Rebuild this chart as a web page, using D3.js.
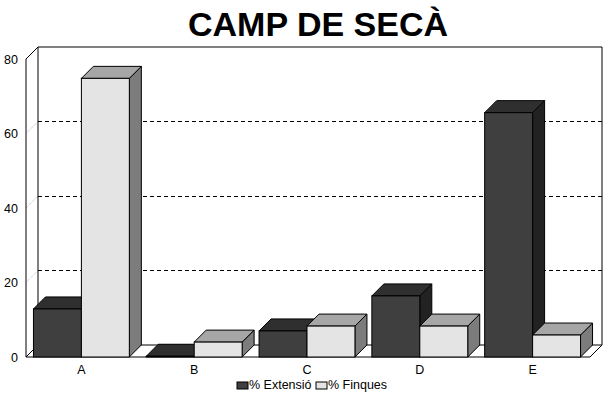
<!DOCTYPE html>
<html><head><meta charset="utf-8">
<script src="https://cdn.jsdelivr.net/npm/d3@7"></script>
<style>
html,body{margin:0;padding:0;background:#fff;}
svg{display:block;}
text{font-family:Arial,"Liberation Sans",sans-serif;fill:#000;}
</style></head>
<body>
<svg id="chart" width="610" height="399"></svg>
<script>
const title = "CAMP DE SECÀ";
const categories = ["A","B","C","D","E"];
const seriesNames = ["% Extensió","% Finques"];
const extensio = [12.9, 0.2, 7.0, 16.4, 65.6];
const finques = [74.8, 4.0, 8.3, 8.3, 5.9];
const yTicks = [0, 20, 40, 60, 80];

(function(){
const svg = d3.select("#chart");
const DX = 12, DY = 12;
const pL = 26, pR = 590, pT = 59, pB = 357;

const x = d3.scaleBand().domain(categories).range([25, 589]).paddingInner(0.15).paddingOuter(0.075);
const xs = d3.scaleBand().domain(seriesNames).range([0, x.bandwidth()]);
const y = d3.scaleLinear().domain([0, 80]).range([pB, pT]);

const styles = {
  "% Extensió": {front:"#3f3f3f", top:"#2f2f2f", side:"#222222"},
  "% Finques": {front:"#e4e4e4", top:"#a6a6a6", side:"#7c7c7c"}
};

svg.append("text").attr("x", 318).attr("y", 36).attr("text-anchor","middle")
  .style("font-size","34px").style("font-weight","bold").text(title);

const wall = svg.append("g");
wall.append("rect").attr("x", pL+DX).attr("y", pT-DY).attr("width", pR-pL).attr("height", pB-pT)
  .attr("fill","#fff").attr("stroke","none");

yTicks.filter(t => t > 0 && t < 80).forEach(t => {
  wall.append("line").attr("x1", pL+DX).attr("x2", pR+DX).attr("y1", y(t)-DY).attr("y2", y(t)-DY)
    .attr("stroke","#000").attr("stroke-dasharray","4,3").attr("stroke-width",1).attr("shape-rendering","crispEdges");
  wall.append("line").attr("x1", pL).attr("y1", y(t)).attr("x2", pL+DX).attr("y2", y(t)-DY)
    .attr("stroke","#bbb").attr("stroke-dasharray","1,1").attr("stroke-width",1);
});

const line = d3.line();
wall.append("path").attr("d", line([[pL, pB],[pL, pT],[pL+DX, pT-DY],[pR+DX, pT-DY],[pR+DX, pB-DY],[pR, pB],[pL, pB]]))
  .attr("fill","none").attr("stroke","#000").attr("stroke-width",1);
wall.append("path").attr("d", line([[pL+DX, pT-DY],[pL+DX, pB-DY],[pR+DX, pB-DY]]))
  .attr("fill","none").attr("stroke","#000").attr("stroke-width",1);
wall.append("line").attr("x1", pL).attr("y1", pB).attr("x2", pL+DX).attr("y2", pB-DY)
  .attr("stroke","#000").attr("stroke-width",1);

const bars = svg.append("g");
categories.forEach((c, i) => {
  const vals = [extensio[i], finques[i]];
  seriesNames.forEach((s, j) => {
    const x0 = x(c) + xs(s), x1 = x0 + xs.bandwidth();
    const y0 = y(0), y1 = y(vals[j]);
    const st = styles[s];
    const g = bars.append("g").attr("stroke","#000").attr("stroke-width",1).attr("stroke-linejoin","miter");
    g.append("path").attr("d", line([[x1, y0],[x1+DX, y0-DY],[x1+DX, y1-DY],[x1, y1]]) + "Z").attr("fill", st.side);
    g.append("path").attr("d", line([[x0, y1],[x0+DX, y1-DY],[x1+DX, y1-DY],[x1, y1]]) + "Z").attr("fill", st.top);
    g.append("rect").attr("x", x0).attr("y", y1).attr("width", x1-x0).attr("height", y0-y1).attr("fill", st.front);
  });
});

svg.append("g").selectAll("text").data(yTicks).join("text")
  .attr("x", 18).attr("y", d => y(d) + 4.5).attr("text-anchor","end")
  .style("font-size","12.5px").text(d => d);

svg.append("g").selectAll("text").data(categories).join("text")
  .attr("x", d => x(d) + x.bandwidth()/2).attr("y", 373.5).attr("text-anchor","middle")
  .style("font-size","12.5px").text(d => d);

const legendX = [237, 316];
const lg = svg.append("g");
seriesNames.forEach((s, j) => {
  lg.append("rect").attr("x", legendX[j]).attr("y", 382).attr("width", 11).attr("height", 7)
    .attr("fill", styles[s].front).attr("stroke","#000").attr("stroke-width",1);
  lg.append("text").attr("x", legendX[j] + 12).attr("y", 389).style("font-size","12.5px").text(s);
});
})();
</script>
</body></html>
